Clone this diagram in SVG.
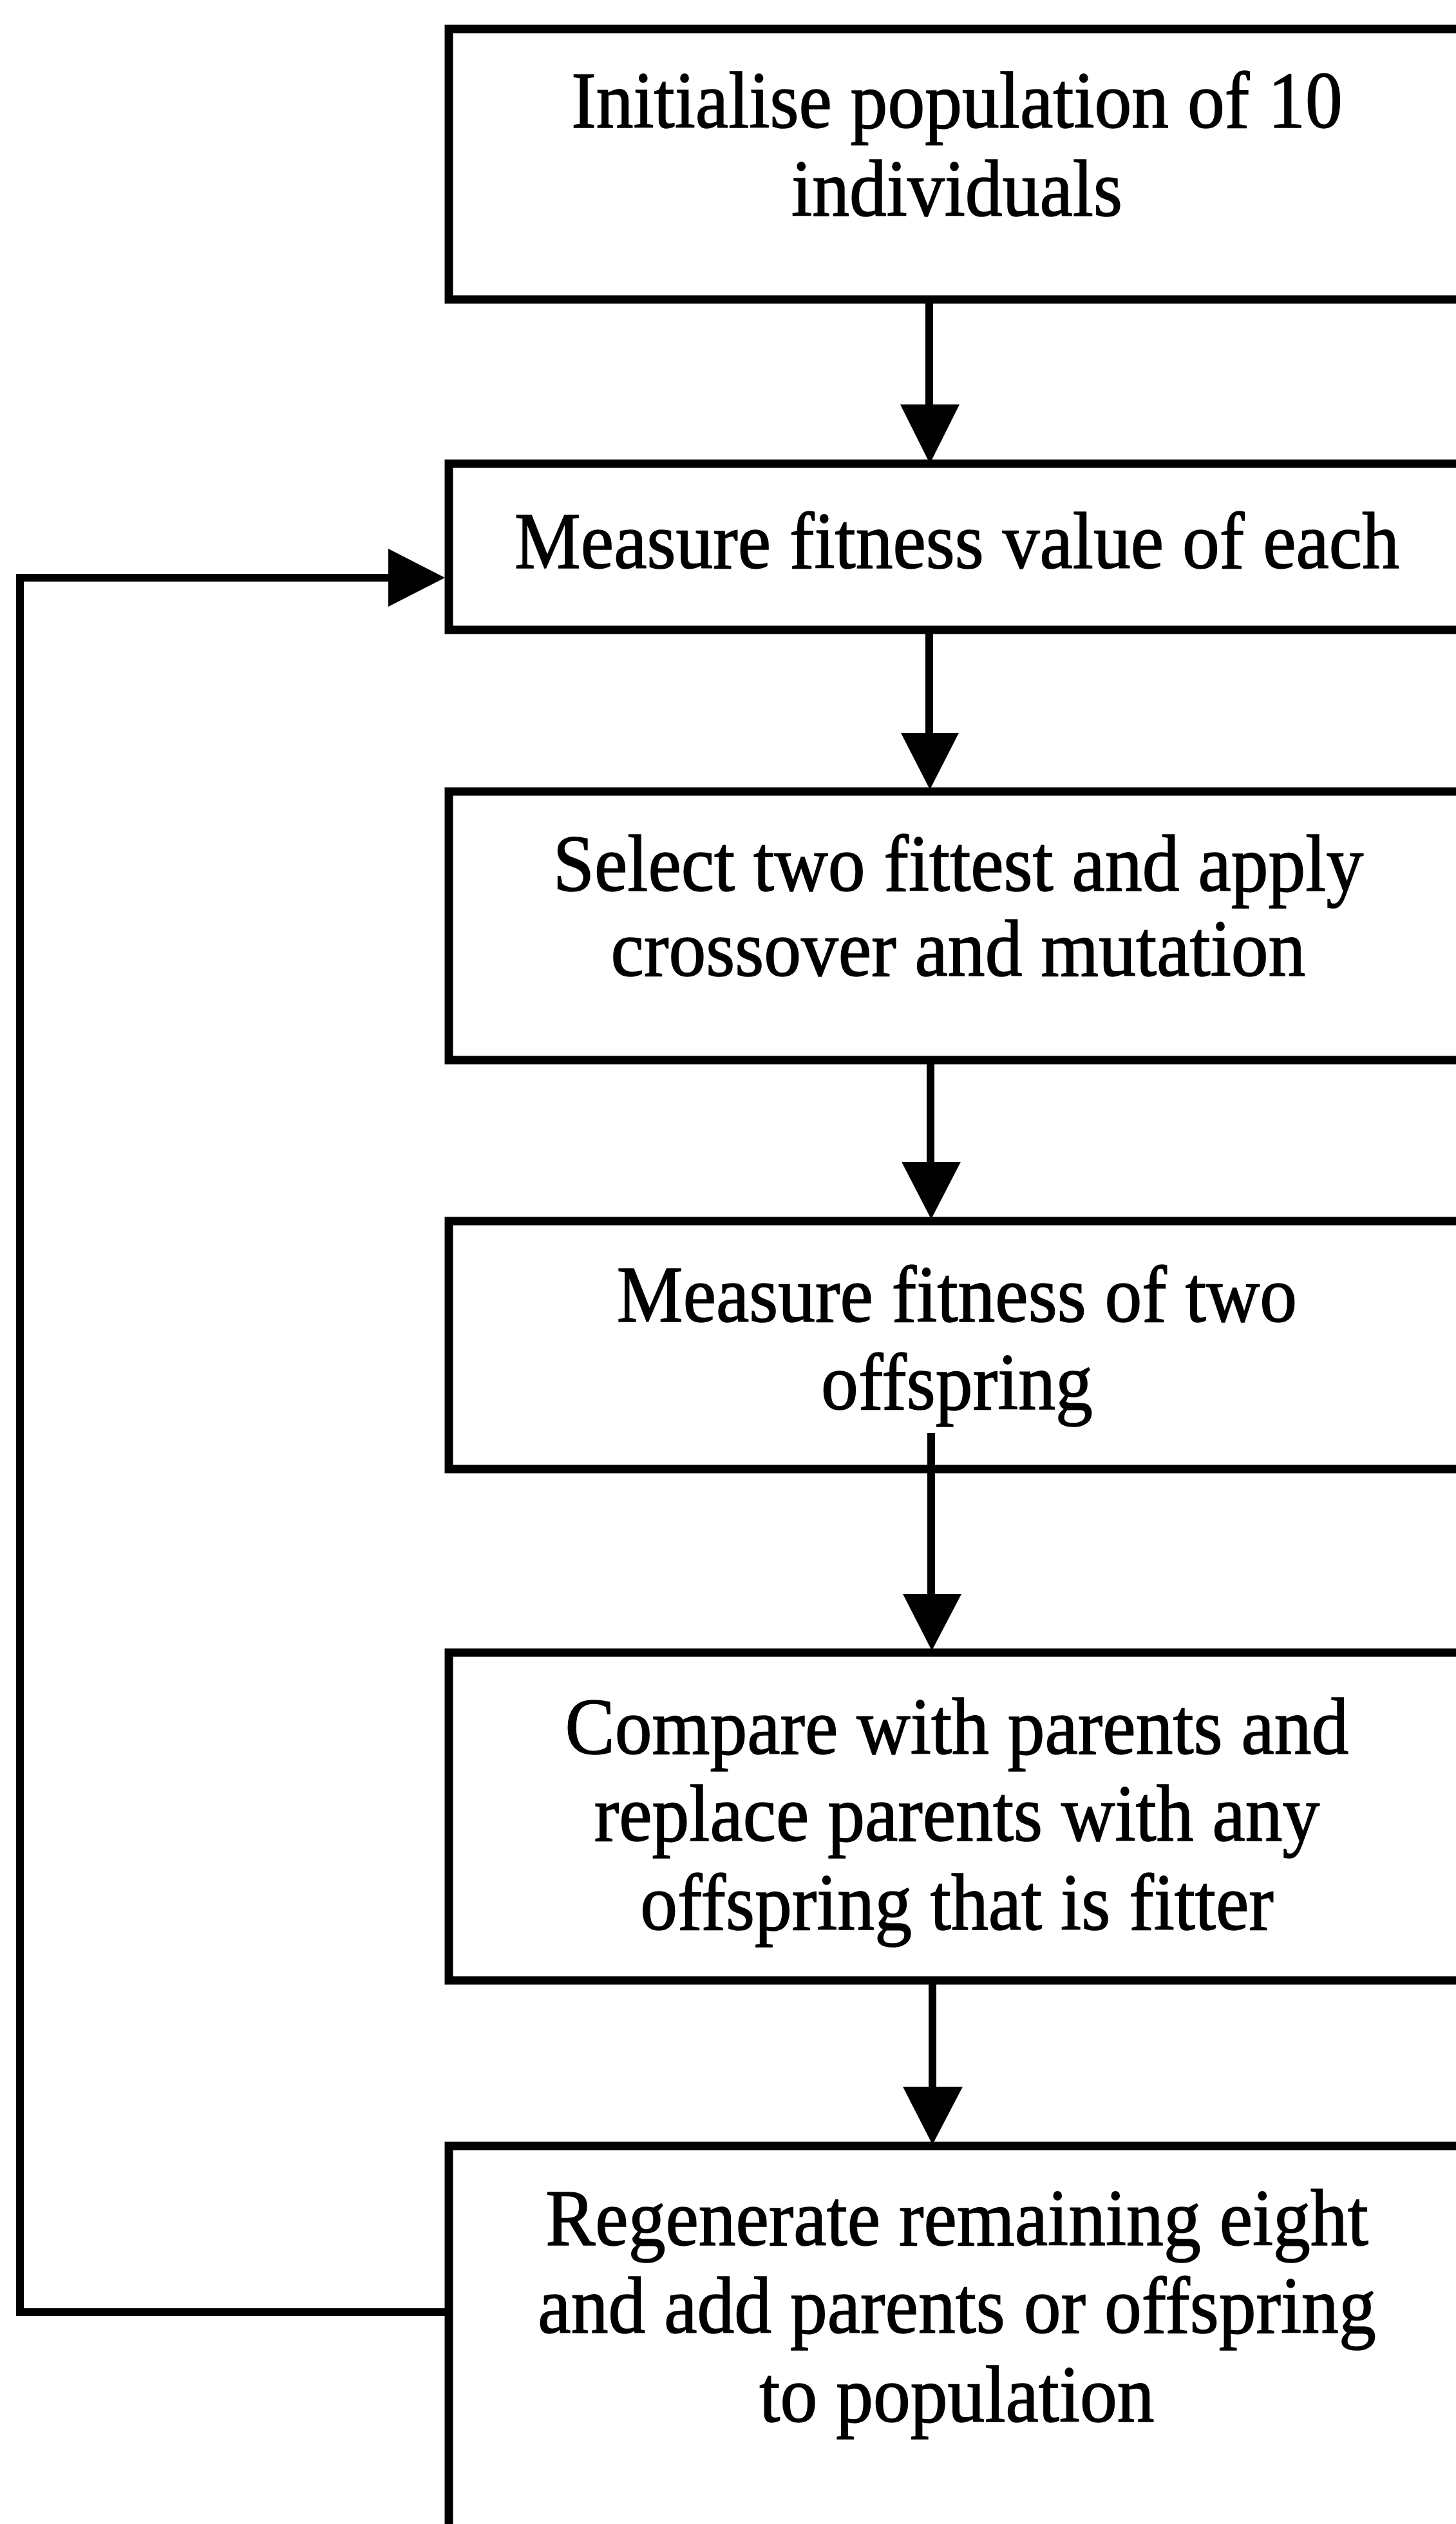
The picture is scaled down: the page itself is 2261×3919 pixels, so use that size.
<svg xmlns="http://www.w3.org/2000/svg" width="2261" height="3919" viewBox="0 0 2261 3919">
  <style>
    .box { fill: #ffffff; stroke: #000000; stroke-width: 13; }
    .edge { fill: none; stroke: #000000; stroke-width: 12; stroke-linejoin: miter; }
    .head { fill: #000000; stroke: none; }
    .label { font-family: "Liberation Serif", "Times New Roman", serif; font-size: 125px; fill: #000000; stroke: #000000; stroke-width: 1.6; text-anchor: middle; }
  </style>
  <rect x="0" y="0" width="2261" height="3919" fill="#ffffff"/>

  <!-- process steps; each box runs past the right edge of the sheet -->
  <g id="n1-initialise">
    <rect class="box" x="697" y="45" width="1650" height="420"/>
    <g transform="matrix(0.925 0 0 1 1486 0)">
      <text class="label" x="0" y="198">Initialise population of 10</text>
      <text class="label" x="0" y="335">individuals</text>
    </g>
  </g>

  <g id="n2-measure-fitness">
    <rect class="box" x="697" y="720" width="1650" height="258"/>
    <g transform="matrix(0.925 0 0 1 1486 0)">
      <text class="label" x="0" y="882">Measure fitness value of each</text>
    </g>
  </g>

  <g id="n3-select-crossover">
    <rect class="box" x="697" y="1229" width="1650" height="417"/>
    <g transform="matrix(0.925 0 0 1 1488 0)">
      <text class="label" x="0" y="1383">Select two fittest and apply</text>
      <text class="label" x="0" y="1515">crossover and mutation</text>
    </g>
  </g>

  <g id="n4-measure-offspring">
    <rect class="box" x="697" y="1896" width="1650" height="385"/>
    <g transform="matrix(0.925 0 0 1 1486 0)">
      <text class="label" x="0" y="2052">Measure fitness of two</text>
      <text class="label" x="0" y="2188">offspring</text>
    </g>
  </g>

  <g id="n5-compare-replace">
    <rect class="box" x="697" y="2566" width="1650" height="509"/>
    <g transform="matrix(0.925 0 0 1 1486 0)">
      <text class="label" x="0" y="2723">Compare with parents and</text>
      <text class="label" x="0" y="2858">replace parents with any</text>
      <text class="label" x="0" y="2996">offspring that is fitter</text>
    </g>
  </g>

  <g id="n6-regenerate">
    <rect class="box" x="697" y="3332" width="1650" height="700"/>
    <g transform="matrix(0.925 0 0 1 1486 0)">
      <text class="label" x="0" y="3486">Regenerate remaining eight</text>
      <text class="label" x="0" y="3622">and add parents or offspring</text>
      <text class="label" x="0" y="3760">to population</text>
    </g>
  </g>

  <!-- flow arrows -->
  <g id="connectors">
    <line class="edge" x1="1443" y1="465" x2="1443" y2="632"/>
    <polygon class="head" points="1398,628 1490,628 1444,720"/>

    <line class="edge" x1="1443" y1="978" x2="1443" y2="1142"/>
    <polygon class="head" points="1399,1138 1489,1138 1444,1226"/>

    <line class="edge" x1="1445" y1="1646" x2="1445" y2="1808"/>
    <polygon class="head" points="1400,1804 1492,1804 1446,1893"/>

    <line class="edge" x1="1446" y1="2225" x2="1446" y2="2479"/>
    <polygon class="head" points="1402,2475 1493,2475 1447,2563"/>

    <line class="edge" x1="1448" y1="3075" x2="1448" y2="3244"/>
    <polygon class="head" points="1402,3240 1495,3240 1448,3330"/>

    <!-- loop back to fitness measurement -->
    <polyline class="edge" points="697,3590 31,3590 31,897 608,897"/>
    <polygon class="head" points="603,852 603,942 691,897"/>
  </g>
</svg>
